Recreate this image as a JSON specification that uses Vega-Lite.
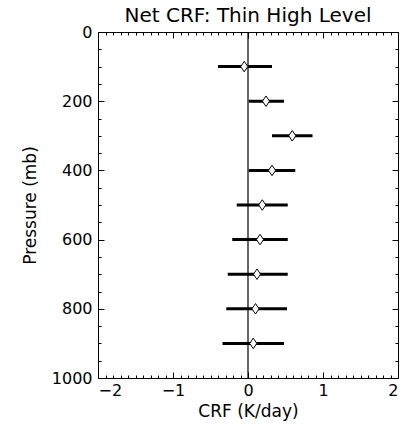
{
  "$schema": "https://vega.github.io/schema/vega-lite/v6.json",
  "width": 300,
  "height": 346,
  "autosize": "none",
  "padding": {"left": 98, "top": 32, "right": 14, "bottom": 50},
  "background": "white",
  "title": {"text": "Net CRF: Thin High Level", "fontSize": 20, "font": "DejaVu Sans", "fontWeight": "normal", "color": "black", "offset": -2},
  "config": {
    "view": {"stroke": "black", "strokeWidth": 1},
    "axis": {"grid": false, "domain": false, "tickColor": "black", "tickWidth": 1, "labelFont": "DejaVu Sans", "labelFontSize": 16, "labelColor": "black", "titleFont": "DejaVu Sans", "titleFontSize": 17, "titleFontWeight": "normal", "titleColor": "black", "labelOverlap": false}
  },
  "data": {"values": [
    {"p": 100, "lo": -0.40, "hi": 0.32, "m": -0.05},
    {"p": 200, "lo": 0.01, "hi": 0.48, "m": 0.24},
    {"p": 300, "lo": 0.32, "hi": 0.86, "m": 0.59},
    {"p": 400, "lo": 0.01, "hi": 0.63, "m": 0.32},
    {"p": 500, "lo": -0.15, "hi": 0.53, "m": 0.19},
    {"p": 600, "lo": -0.21, "hi": 0.53, "m": 0.16},
    {"p": 700, "lo": -0.27, "hi": 0.53, "m": 0.12},
    {"p": 800, "lo": -0.29, "hi": 0.52, "m": 0.10},
    {"p": 900, "lo": -0.34, "hi": 0.48, "m": 0.07}
  ]},
  "resolve": {"scale": {"x": "independent", "y": "independent"}},
  "layer": [
    {
      "layer": [
        {
          "mark": {"type": "rule", "color": "black", "strokeWidth": 3},
          "encoding": {
            "x": {"field": "lo", "type": "quantitative", "scale": {"domain": [-2, 2], "nice": false, "zero": false},
              "axis": {"orient": "bottom", "title": "CRF (K/day)", "format": "d", "offset": -6, "tickSize": 6, "labelPadding": 4, "titlePadding": 5,
                "values": [-2, -1, 0, 1, 2]}},
            "x2": {"field": "hi"},
            "y": {"field": "p", "type": "quantitative", "scale": {"domain": [0, 1000], "reverse": true, "nice": false},
              "axis": {"orient": "left", "title": "Pressure (mb)", "format": "d", "offset": -6, "tickSize": 6, "labelPadding": 6, "titlePadding": 12,
                "values": [0, 200, 400, 600, 800, 1000]}}
          }
        },
        {
          "data": {"values": [{"x0": 0}]},
          "mark": {"type": "rule", "color": "black", "strokeWidth": 1.2},
          "encoding": {
            "x": {"field": "x0", "type": "quantitative"}
          }
        },
        {
          "mark": {"type": "point", "shape": "M0,-1L0.68,0L0,1L-0.68,0Z", "size": 110, "filled": true, "fill": "white", "stroke": "black", "strokeWidth": 1, "opacity": 1},
          "encoding": {
            "x": {"field": "m", "type": "quantitative"},
            "y": {"field": "p", "type": "quantitative"}
          }
        }
      ]
    },
    {
      "mark": {"type": "point", "opacity": 0},
      "encoding": {
        "x": {"field": "m", "type": "quantitative", "scale": {"domain": [-2, 2], "nice": false, "zero": false},
          "axis": {"orient": "top", "title": null, "labels": false, "offset": -6, "tickSize": 6, "values": [-2, -1, 0, 1, 2]}},
        "y": {"field": "p", "type": "quantitative", "scale": {"domain": [0, 1000], "reverse": true, "nice": false},
          "axis": {"orient": "right", "title": null, "labels": false, "offset": -6, "tickSize": 6, "values": [0, 200, 400, 600, 800, 1000]}}
      }
    },
    {
      "mark": {"type": "point", "opacity": 0},
      "encoding": {
        "x": {"field": "m", "type": "quantitative", "scale": {"domain": [-2, 2], "nice": false, "zero": false},
          "axis": {"orient": "top", "title": null, "labels": false, "offset": -3, "tickSize": 3,
            "values": [-1.9,-1.8,-1.7,-1.6,-1.5,-1.4,-1.3,-1.2,-1.1,-0.9,-0.8,-0.7,-0.6,-0.5,-0.4,-0.3,-0.2,-0.1,0.1,0.2,0.3,0.4,0.5,0.6,0.7,0.8,0.9,1.1,1.2,1.3,1.4,1.5,1.6,1.7,1.8,1.9]}},
        "y": {"field": "p", "type": "quantitative", "scale": {"domain": [0, 1000], "reverse": true, "nice": false},
          "axis": {"orient": "right", "title": null, "labels": false, "offset": -3, "tickSize": 3,
            "values": [50,100,150,250,300,350,450,500,550,650,700,750,850,900,950]}}
      }
    },
    {
      "mark": {"type": "point", "opacity": 0},
      "encoding": {
        "x": {"field": "m", "type": "quantitative", "scale": {"domain": [-2, 2], "nice": false, "zero": false},
          "axis": {"orient": "bottom", "title": null, "labels": false, "offset": -3, "tickSize": 3,
            "values": [-1.9,-1.8,-1.7,-1.6,-1.5,-1.4,-1.3,-1.2,-1.1,-0.9,-0.8,-0.7,-0.6,-0.5,-0.4,-0.3,-0.2,-0.1,0.1,0.2,0.3,0.4,0.5,0.6,0.7,0.8,0.9,1.1,1.2,1.3,1.4,1.5,1.6,1.7,1.8,1.9]}},
        "y": {"field": "p", "type": "quantitative", "scale": {"domain": [0, 1000], "reverse": true, "nice": false},
          "axis": {"orient": "left", "title": null, "labels": false, "offset": -3, "tickSize": 3,
            "values": [50,100,150,250,300,350,450,500,550,650,700,750,850,900,950]}}
      }
    }
  ]
}
